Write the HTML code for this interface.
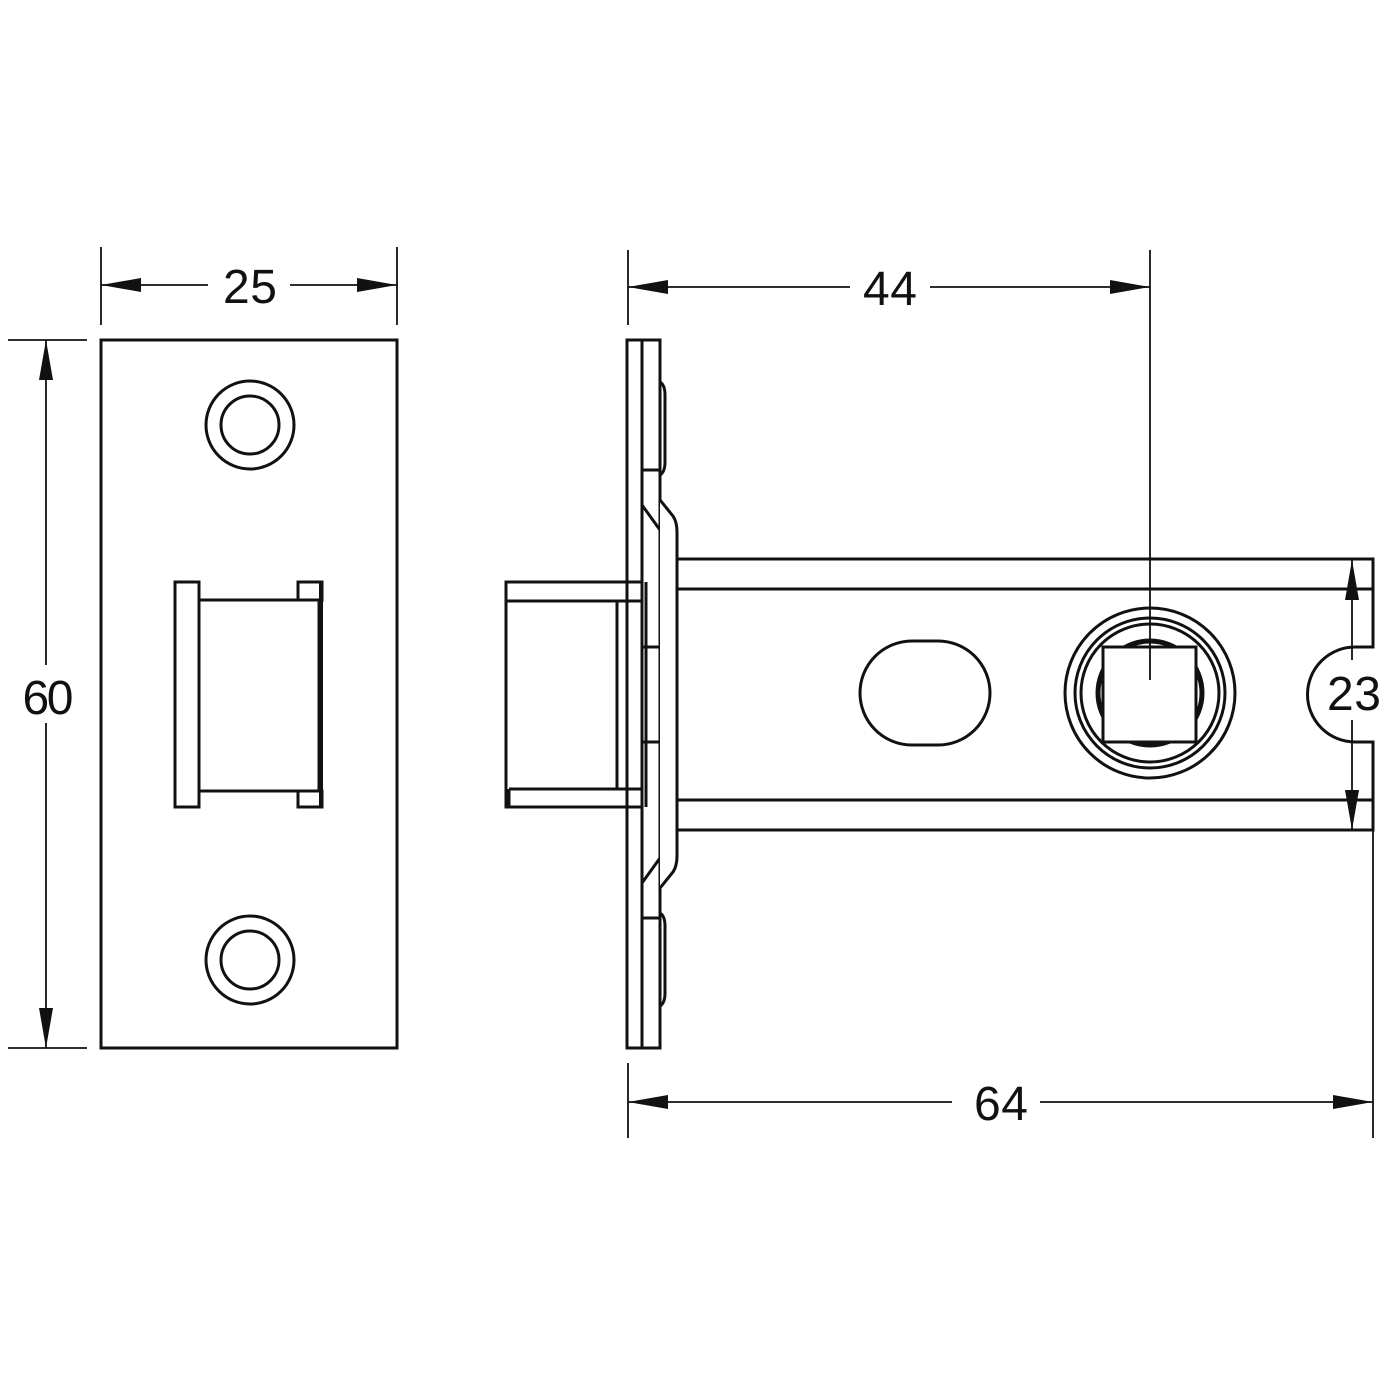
<!DOCTYPE html>
<html><head><meta charset="utf-8"><style>
html,body{margin:0;padding:0;background:#fff}
svg{display:block}
text{font-family:"Liberation Sans",sans-serif;font-size:48px;fill:#111}
</style></head><body>
<svg width="1386" height="1386" viewBox="0 0 1386 1386" xmlns="http://www.w3.org/2000/svg">
<defs>
<marker id="a" viewBox="0 0 40 14" refX="40" refY="7" markerWidth="40" markerHeight="14" markerUnits="userSpaceOnUse" orient="auto-start-reverse"><path d="M0,0 L40,7 L0,14 Z" fill="#111"/></marker>
</defs>
<g stroke="#111" fill="none" stroke-width="1.8">
<line x1="101" y1="247" x2="101" y2="325"/><line x1="397" y1="247" x2="397" y2="325"/>
<line x1="101" y1="285" x2="208" y2="285" marker-start="url(#a)"/>
<line x1="290" y1="285" x2="397" y2="285" marker-end="url(#a)"/>
<line x1="8" y1="340" x2="87" y2="340"/><line x1="8" y1="1048" x2="87" y2="1048"/>
<line x1="46" y1="340" x2="46" y2="665" marker-start="url(#a)"/>
<line x1="46" y1="723" x2="46" y2="1048" marker-end="url(#a)"/>
<line x1="628" y1="250" x2="628" y2="325"/><line x1="1150" y1="250" x2="1150" y2="680"/>
<line x1="628" y1="287" x2="850" y2="287" marker-start="url(#a)"/>
<line x1="930" y1="287" x2="1150" y2="287" marker-end="url(#a)"/>
<line x1="628" y1="1063" x2="628" y2="1138"/><line x1="1373" y1="830" x2="1373" y2="1138"/>
<line x1="628" y1="1102" x2="952" y2="1102" marker-start="url(#a)"/>
<line x1="1040" y1="1102" x2="1373" y2="1102" marker-end="url(#a)"/>
<line x1="1352" y1="560" x2="1352" y2="660" marker-start="url(#a)"/>
<line x1="1352" y1="720" x2="1352" y2="830" marker-end="url(#a)"/>
</g>
<text x="250" y="303" text-anchor="middle" textLength="54">25</text>
<text x="48" y="714" text-anchor="middle" textLength="51">60</text>
<text x="890" y="305" text-anchor="middle" textLength="54">44</text>
<text x="1001" y="1120" text-anchor="middle" textLength="54">64</text>
<text x="1354" y="710" text-anchor="middle" textLength="54">23</text>

<g stroke="#111" fill="none" stroke-width="3">
<rect x="101" y="340" width="296" height="708"/>
<circle cx="250" cy="425" r="44"/><circle cx="250" cy="425" r="29"/>
<circle cx="250" cy="960" r="44"/><circle cx="250" cy="960" r="29"/>
<rect x="175" y="582" width="24" height="225"/>
<rect x="199" y="600" width="120" height="191"/>
<rect x="298" y="582" width="24" height="18"/>
<rect x="298" y="791" width="24" height="16"/>
<line x1="321" y1="582" x2="321" y2="807" stroke-width="4"/>

<rect x="627" y="340" width="33" height="708"/>
<line x1="642" y1="340" x2="642" y2="1048"/>
<path d="M660,382 Q665,385 665,395 L665,462 Q665,472 660,475"/>
<path d="M660,1006 Q665,1003 665,993 L665,926 Q665,916 660,913"/>
<line x1="642" y1="470" x2="660" y2="470"/>
<line x1="642" y1="918" x2="660" y2="918"/>
<path d="M642,470 L642,505 L660,530 L660,858 L642,883 L642,918"/>
<path d="M660,470 L660,500 L673,516 Q677,522 677,532 L677,856 Q677,866 673,872 L660,888 L660,918" fill="#fff"/>
<line x1="642" y1="647" x2="660" y2="647"/>
<line x1="642" y1="742" x2="660" y2="742"/>

<path d="M642,582 L506,582 L506,807 L642,807"/>
<line x1="506" y1="601" x2="642" y2="601"/>
<line x1="509" y1="789" x2="642" y2="789"/>
<line x1="509" y1="789" x2="509" y2="807"/>
<line x1="617" y1="601" x2="617" y2="789"/>
<line x1="646" y1="582" x2="646" y2="807"/>

<path d="M677,559 L1373,559 L1373,647 L1355,647 A47,47 0 0 0 1355,742 L1373,742 L1373,830 L677,830"/>
<line x1="677" y1="589" x2="1373" y2="589"/>
<line x1="677" y1="800" x2="1373" y2="800"/>
<path d="M912,641 L938,641 A52,52 0 0 1 938,745 L912,745 A52,52 0 0 1 912,641 Z"/>
<circle cx="1150" cy="693" r="85"/>
<circle cx="1150" cy="693" r="75"/>
<circle cx="1150" cy="693" r="69"/>
<circle cx="1150" cy="693" r="52" stroke-width="5"/>
<rect x="1103" y="647" width="93" height="95" fill="#fff"/>
</g>
<line x1="1150" y1="640" x2="1150" y2="680" stroke="#111" stroke-width="1.8"/>
</svg>
</body></html>
